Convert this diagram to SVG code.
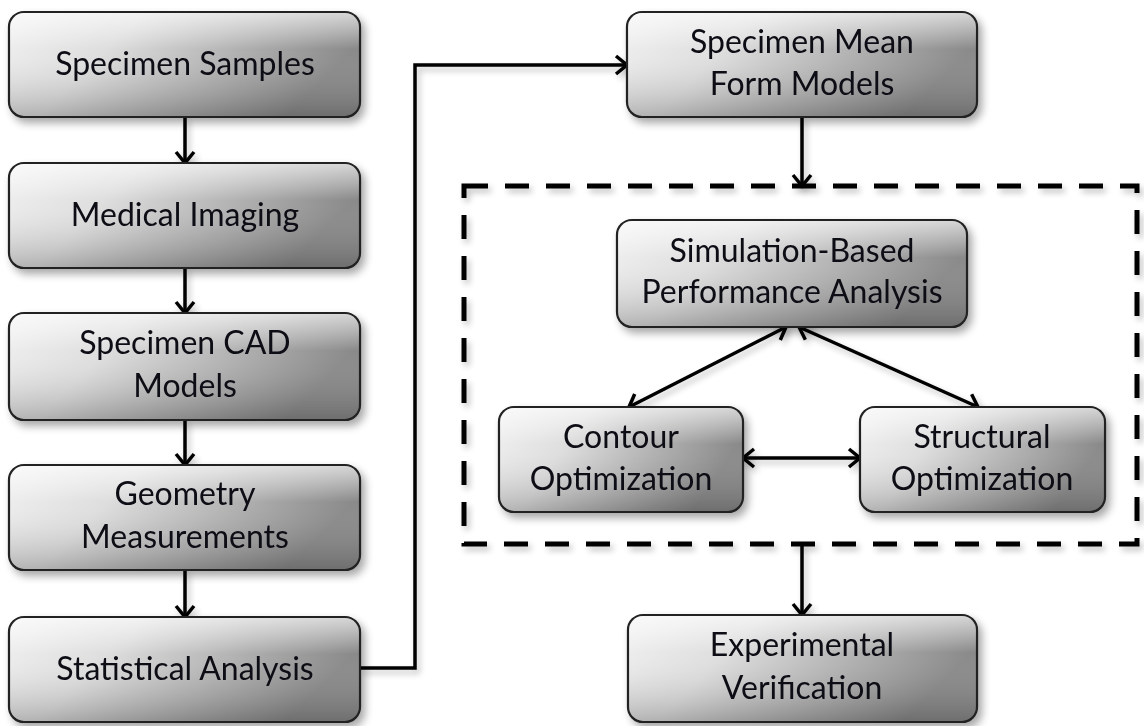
<svg xmlns="http://www.w3.org/2000/svg" width="1144" height="726" viewBox="0 0 1144 726">
  <defs>
    <linearGradient id="boxFill" x1="0" y1="0" x2="1" y2="0.3">
      <stop offset="0" stop-color="#f2f2f2"/>
      <stop offset="0.35" stop-color="#dedede"/>
      <stop offset="1" stop-color="#8a8a8a"/>
    </linearGradient>
    <linearGradient id="boxShade" x1="0" y1="0" x2="0" y2="1">
      <stop offset="0" stop-color="#ffffff" stop-opacity="0.6"/>
      <stop offset="0.35" stop-color="#ffffff" stop-opacity="0"/>
      <stop offset="1" stop-color="#000000" stop-opacity="0.2"/>
    </linearGradient>
    <filter id="shadow" x="-10%" y="-10%" width="130%" height="140%">
      <feGaussianBlur in="SourceAlpha" stdDeviation="4"/>
      <feOffset dx="4" dy="5" result="b"/>
      <feComponentTransfer><feFuncA type="linear" slope="0.35"/></feComponentTransfer>
      <feMerge><feMergeNode/><feMergeNode in="SourceGraphic"/></feMerge>
    </filter>
    <filter id="lineShadow" x="-20%" y="-20%" width="140%" height="140%">
      <feGaussianBlur in="SourceAlpha" stdDeviation="3"/>
      <feOffset dx="3" dy="4" result="b"/>
      <feComponentTransfer><feFuncA type="linear" slope="0.25"/></feComponentTransfer>
      <feMerge><feMergeNode/><feMergeNode in="SourceGraphic"/></feMerge>
    </filter>
    <marker id="chev" markerUnits="userSpaceOnUse" markerWidth="26" markerHeight="26" refX="14" refY="11" orient="auto-start-reverse">
      <path d="M3,2 L14,11 L3,20" fill="none" stroke="#000" stroke-width="3.5" stroke-linejoin="miter"/>
    </marker>
    <style>
      .box { fill: url(#boxFill); stroke: #202020; stroke-width: 2.2; }
      .shade { fill: url(#boxShade); stroke: none; }
      .lbl { font-family: Lato, "Liberation Sans", sans-serif; font-size: 32px; fill: #0c0c14; text-anchor: middle; }
      .conn { fill: none; stroke: #000; stroke-width: 3.5; }
      .arrow { marker-end: url(#chev); }
      .both { marker-start: url(#chev); marker-end: url(#chev); }
      .frame { fill: none; stroke: #000; stroke-width: 5; stroke-dasharray: 24 17; }
    </style>
  </defs>

  <rect width="1144" height="726" fill="#ffffff"/>

  <!-- dashed optimisation loop frame -->
  <g id="loop-frame" filter="url(#lineShadow)">
    <rect class="frame" x="464" y="186" width="673" height="358"/>
  </g>

  <!-- connectors -->
  <g id="connectors" filter="url(#lineShadow)">
    <line class="conn arrow" x1="185" y1="117" x2="185" y2="163"/>
    <line class="conn arrow" x1="185" y1="268" x2="185" y2="313"/>
    <line class="conn arrow" x1="185" y1="420" x2="185" y2="465"/>
    <line class="conn arrow" x1="185" y1="570" x2="185" y2="617"/>
    <path class="conn arrow" d="M360,668 H415 V65 H627"/>
    <line class="conn arrow" x1="802" y1="117" x2="802" y2="186"/>
    <line class="conn both" x1="786" y1="327" x2="629" y2="407"/>
    <line class="conn both" x1="799" y1="327" x2="978" y2="407"/>
    <line class="conn both" x1="743" y1="458" x2="860" y2="458"/>
    <line class="conn arrow" x1="802" y1="544" x2="802" y2="615"/>
  </g>

  <!-- left column -->
  <g id="specimen-samples" filter="url(#shadow)">
    <rect class="box" x="9" y="12" width="351" height="105" rx="15"/>
    <rect class="shade" x="10" y="13" width="349" height="103" rx="14"/>
    <text class="lbl" x="185" y="75">Specimen Samples</text>
  </g>
  <g id="medical-imaging" filter="url(#shadow)">
    <rect class="box" x="9" y="163" width="351" height="105" rx="15"/>
    <rect class="shade" x="10" y="164" width="349" height="103" rx="14"/>
    <text class="lbl" x="185" y="226">Medical Imaging</text>
  </g>
  <g id="specimen-cad-models" filter="url(#shadow)">
    <rect class="box" x="9" y="313" width="351" height="107" rx="15"/>
    <rect class="shade" x="10" y="314" width="349" height="105" rx="14"/>
    <text class="lbl" x="185" y="354">Specimen CAD</text>
    <text class="lbl" x="185" y="397">Models</text>
  </g>
  <g id="geometry-measurements" filter="url(#shadow)">
    <rect class="box" x="9" y="465" width="351" height="105" rx="15"/>
    <rect class="shade" x="10" y="466" width="349" height="103" rx="14"/>
    <text class="lbl" x="185" y="505">Geometry</text>
    <text class="lbl" x="185" y="548">Measurements</text>
  </g>
  <g id="statistical-analysis" filter="url(#shadow)">
    <rect class="box" x="9" y="617" width="351" height="105" rx="15"/>
    <rect class="shade" x="10" y="618" width="349" height="103" rx="14"/>
    <text class="lbl" x="185" y="680">Statistical Analysis</text>
  </g>

  <!-- right column -->
  <g id="mean-form-models" filter="url(#shadow)">
    <rect class="box" x="627" y="12" width="350" height="105" rx="15"/>
    <rect class="shade" x="628" y="13" width="348" height="103" rx="14"/>
    <text class="lbl" x="802" y="53">Specimen Mean</text>
    <text class="lbl" x="802" y="95">Form Models</text>
  </g>
  <g id="performance-analysis" filter="url(#shadow)">
    <rect class="box" x="617" y="220" width="350" height="107" rx="15"/>
    <rect class="shade" x="618" y="221" width="348" height="105" rx="14"/>
    <text class="lbl" x="792" y="262">Simulation-Based</text>
    <text class="lbl" x="792" y="303">Performance Analysis</text>
  </g>
  <g id="contour-optimization" filter="url(#shadow)">
    <rect class="box" x="499" y="407" width="244" height="105" rx="15"/>
    <rect class="shade" x="500" y="408" width="242" height="103" rx="14"/>
    <text class="lbl" x="621" y="448">Contour</text>
    <text class="lbl" x="621" y="490">Optimization</text>
  </g>
  <g id="structural-optimization" filter="url(#shadow)">
    <rect class="box" x="860" y="407" width="245" height="105" rx="15"/>
    <rect class="shade" x="861" y="408" width="243" height="103" rx="14"/>
    <text class="lbl" x="982" y="448">Structural</text>
    <text class="lbl" x="982" y="490">Optimization</text>
  </g>
  <g id="experimental-verification" filter="url(#shadow)">
    <rect class="box" x="628" y="615" width="349" height="107" rx="15"/>
    <rect class="shade" x="629" y="616" width="347" height="105" rx="14"/>
    <text class="lbl" x="802" y="656">Experimental</text>
    <text class="lbl" x="802" y="699">Verification</text>
  </g>
</svg>
